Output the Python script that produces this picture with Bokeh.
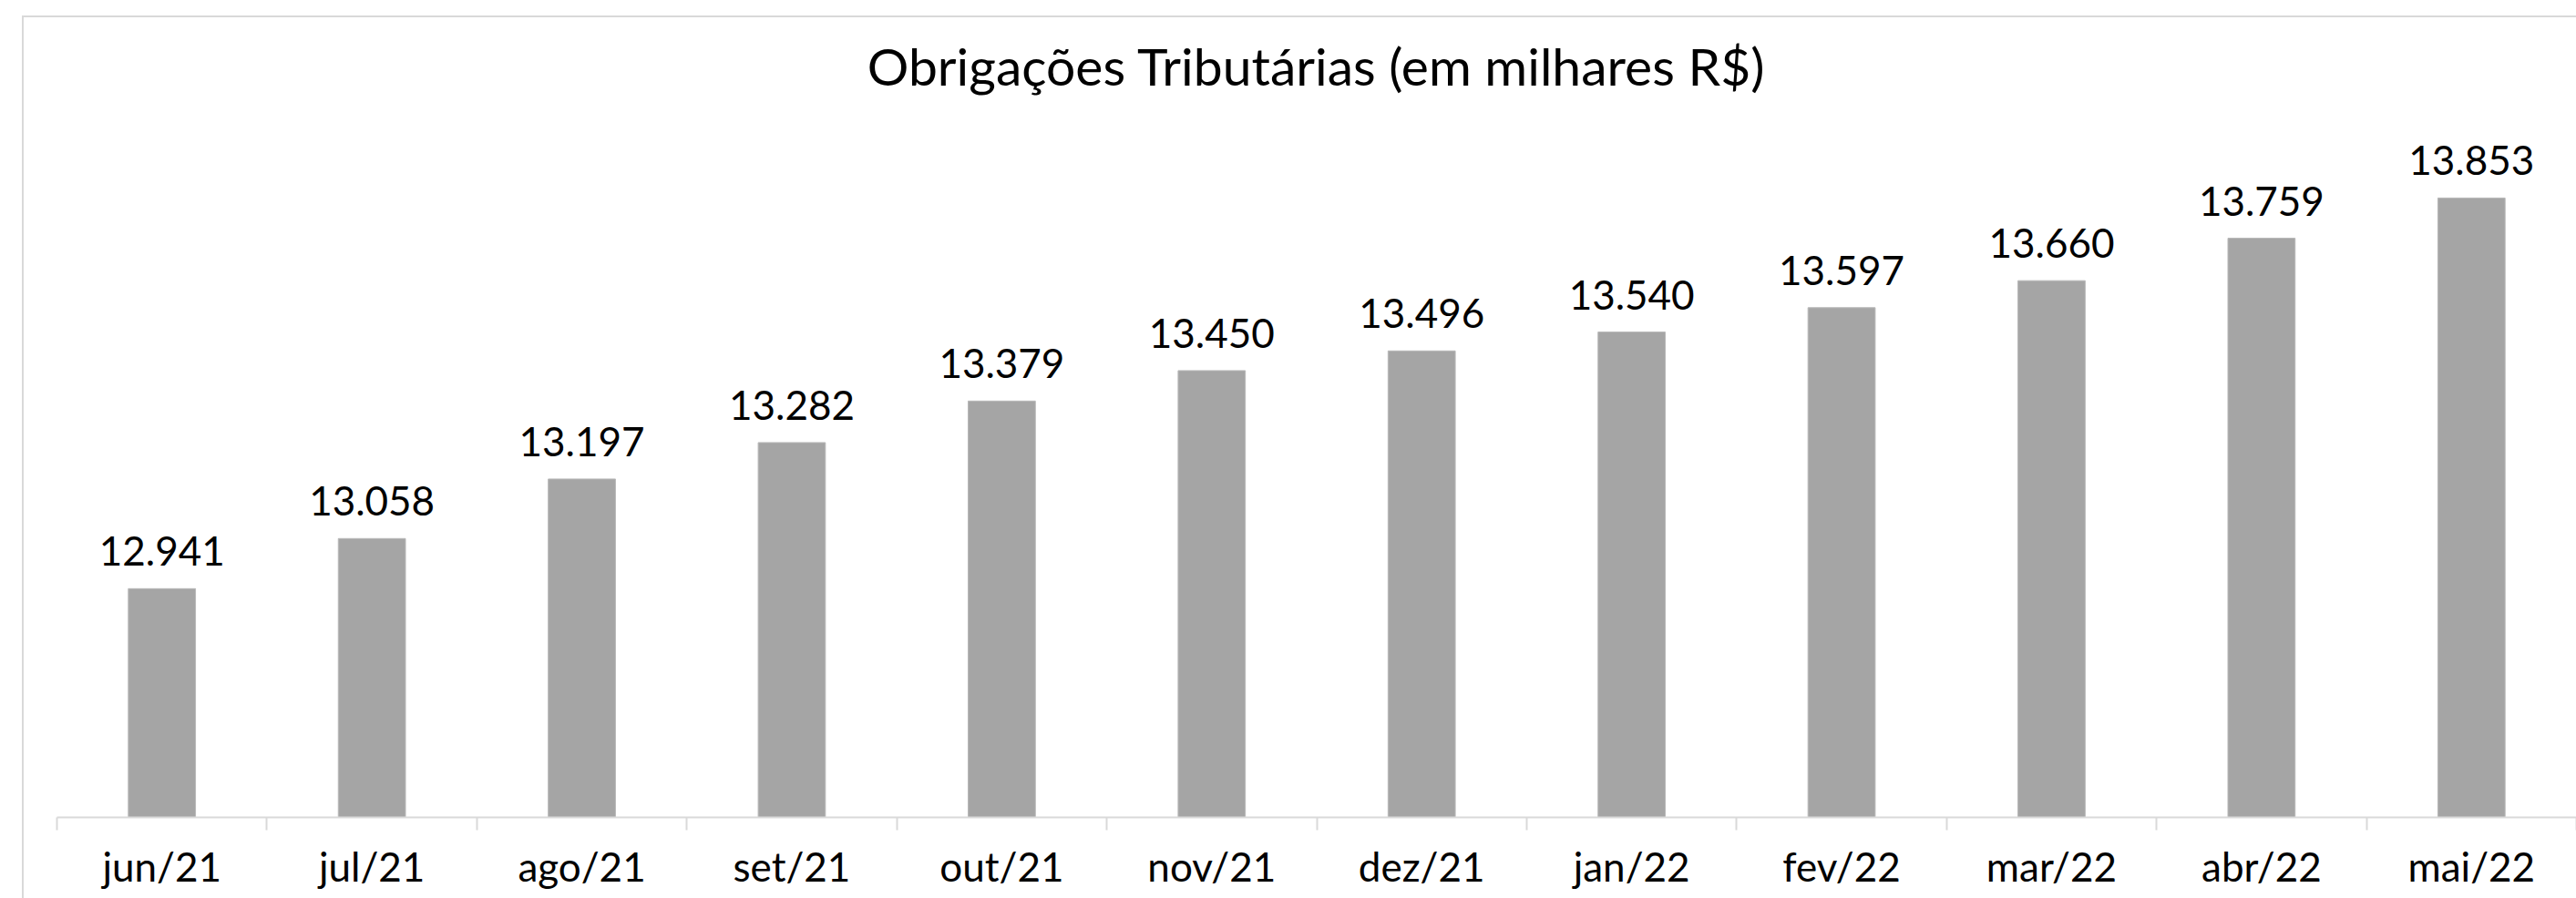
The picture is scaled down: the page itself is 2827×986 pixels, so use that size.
from bokeh.plotting import figure
from bokeh.models import FixedTicker, ColumnDataSource, Range1d, InlineStyleSheet
from bokeh.core.properties import value
from bokeh.embed import file_html
from bokeh.resources import INLINE

# ---- data ----
months = ["jun/21", "jul/21", "ago/21", "set/21", "out/21", "nov/21",
          "dez/21", "jan/22", "fev/22", "mar/22", "abr/22", "mai/22"]
values = [12941, 13058, 13197, 13282, 13379, 13450,
          13496, 13540, 13597, 13660, 13759, 13853]
title_text = "Obrigações Tributárias (em milhares R$)"
y_start = 12407
y_end = 14008

FONT = "Lato"

xs = [i + 0.5 for i in range(len(months))]
labels = [f"{v:,}".replace(",", ".") for v in values]
src = ColumnDataSource(dict(x=xs, top=values, label=labels))

p = figure(width=2827, height=986,
           x_range=Range1d(0, len(months)), y_range=Range1d(y_start, y_end),
           output_backend="svg", toolbar_location=None,
           y_axis_location=None,
           min_border_left=62, min_border_right=0,
           min_border_top=120, min_border_bottom=89)
p.outline_line_color = None
p.xgrid.visible = False
p.ygrid.visible = False
p.background_fill_color = "white"
p.border_fill_color = "white"

p.title.text = title_text
p.title.align = "center"
p.title.vertical_align = "top"
p.title.text_font = FONT
p.title.text_font_size = "57px"
p.title.text_font_style = "normal"
p.title.text_color = "black"
p.title.standoff = 74

p.vbar(x="x", top="top", bottom=y_start, width=0.32, source=src,
       fill_color="#a5a5a5", line_color="#b8b8b8", line_width=1)

p.text(x="x", y="top", text="label", source=src,
       text_align="center", text_baseline="alphabetic", y_offset=-41,
       text_font=value(FONT), text_font_size="44px", text_color="black")

ax = p.xaxis[0]
ax.ticker = FixedTicker(ticks=xs, minor_ticks=list(range(len(months) + 1)))
ax.major_label_overrides = {x: m for x, m in zip(xs, months)}
ax.major_tick_out = 0
ax.major_tick_in = 0
ax.major_tick_line_color = None
ax.minor_tick_out = 14
ax.minor_tick_in = 0
ax.minor_tick_line_color = "#d9d9d9"
ax.minor_tick_line_width = 2
ax.axis_line_color = "#d9d9d9"
ax.axis_line_width = 2
ax.major_label_standoff = 13
ax.major_label_text_font = FONT
ax.major_label_text_font_size = "44px"
ax.major_label_text_color = "black"

# chart-area border (light grey frame, top and left edges visible)
p.stylesheets = [InlineStyleSheet(css="""
:host::after {
  content: "";
  position: absolute;
  left: 24px; top: 17px; right: 0px; bottom: 0px;
  border-left: 2px solid #d9d9d9;
  border-top: 2px solid #d9d9d9;
  pointer-events: none;
  z-index: 10;
}
""")]

open("out.html", "w").write(file_html(p, INLINE))
